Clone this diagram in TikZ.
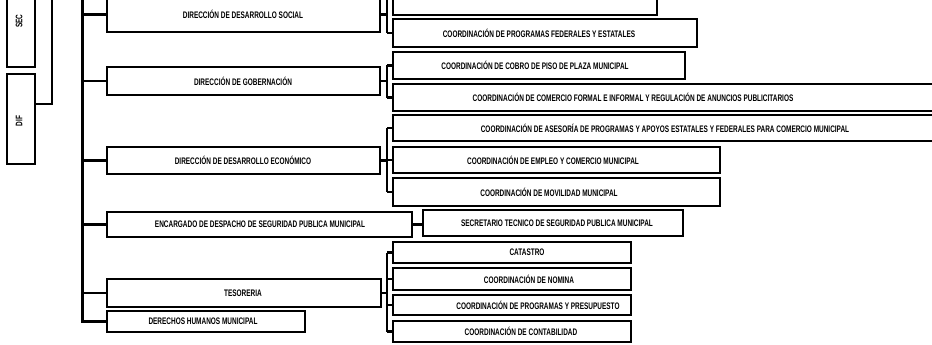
\documentclass[tikz,border=0pt]{standalone}
\usepackage{fontspec}
\setmainfont{Liberation Sans}[FakeStretch=0.68]
\begin{document}
\begin{tikzpicture}[x=1pt,y=-1pt,
  bx/.style={draw=black,line width=1.3pt,rectangle,inner sep=0pt},
  txt/.style={font=\fontsize{9.5}{10}\selectfont\bfseries,inner sep=0pt,text=black},
  bar/.style={line width=3pt,line cap=rect},
  conn/.style={line width=2.2pt},
  thin/.style={line width=1.4pt}]
\useasboundingbox (0,0) rectangle (932,345);
\begin{scope}
\clip (0,0) rectangle (932,345);
% box macro: name, x1, y1, x2, y2, text, text x
\newcommand{\orgbox}[7]{%
  \node[bx,minimum width={(#4)-(#2)},minimum height={(#5)-(#3)}] (#1) at ({((#2)+(#4))/2},{((#3)+(#5))/2}) {};
  \node[txt] (#1t) at (#7,{((#3)+(#5))/2}) {#6};}
% left boxes
\node[bx,minimum width=28,minimum height=72] (sec) at (21,31) {};
\node[txt,rotate=90] (sect) at (19,21) {SEC};
\node[bx,minimum width=28,minimum height=90] (dif) at (21,119) {};
\node[txt,rotate=90] (dift) at (19,121) {DIF};
% level 2
\orgbox{ds}{107}{-3}{380}{32}{DIRECCIÓN DE DESARROLLO SOCIAL}{243}
\orgbox{gob}{107}{67}{380}{95}{DIRECCIÓN DE GOBERNACIÓN}{243}
\orgbox{de}{107}{147}{380}{174}{DIRECCIÓN DE DESARROLLO ECONÓMICO}{243}
\orgbox{enc}{107}{212}{412}{237}{ENCARGADO DE DESPACHO DE SEGURIDAD PUBLICA MUNICIPAL}{260}
\orgbox{tes}{107}{279}{381}{307}{TESORERIA}{243}
\orgbox{dh}{107}{311}{305}{332}{DERECHOS HUMANOS MUNICIPAL}{203}
% level 3
\orgbox{ca}{393}{-20}{657}{15}{}{525}
\orgbox{cb}{393}{19}{697}{47}{COORDINACIÓN DE PROGRAMAS FEDERALES Y ESTATALES}{539}
\orgbox{cc}{393}{52}{685}{79}{COORDINACIÓN DE COBRO DE PISO DE PLAZA MUNICIPAL}{535}
\orgbox{cd}{393}{84}{940}{111}{COORDINACIÓN DE COMERCIO FORMAL E INFORMAL Y REGULACIÓN DE ANUNCIOS PUBLICITARIOS}{633}
\orgbox{ce}{393}{115}{940}{141}{COORDINACIÓN DE ASESORÍA DE PROGRAMAS Y APOYOS ESTATALES Y FEDERALES PARA COMERCIO MUNICIPAL}{665}
\orgbox{cf}{393}{147}{720}{173}{COORDINACIÓN DE EMPLEO Y COMERCIO MUNICIPAL}{553}
\orgbox{cg}{393}{178}{720}{206}{COORDINACIÓN DE MOVILIDAD MUNICIPAL}{549}
\orgbox{st}{423}{210}{683}{236}{SECRETARIO TECNICO DE SEGURIDAD PUBLICA MUNICIPAL}{557}
\orgbox{ch}{393}{242}{631}{263}{CATASTRO}{527}
\orgbox{ci}{393}{268}{631}{290}{COORDINACIÓN DE NOMINA}{529}
\orgbox{cj}{393}{295}{631}{315}{COORDINACIÓN DE PROGRAMAS Y PRESUPUESTO}{538}
\orgbox{ck}{393}{321}{631}{342}{COORDINACIÓN DE CONTABILIDAD}{521}
% connectors
\coordinate (bartop) at (82,-3);
\coordinate (diftop) at (52,-3);
\coordinate (bx) at (387,0);
\draw[thin] ([yshift=15pt]dif.east) -| (diftop);
\draw[bar] (bartop) -- (bartop |- dh.west);
\foreach \n in {ds,gob,de,enc,tes,dh}{
  \draw[conn] (bartop |- \n.west) -- (\n.west);}
\draw[conn] (enc.east) -- (enc.east -| st.west);
% brackets
\draw[conn] (ds.east) -- (ds.east -| bx);
\draw[conn] (bx |- ca.west) -- (bx |- cb.west);
\draw[conn] (gob.east) -- (gob.east -| bx);
\draw[conn] (bx |- cc.west) -- (bx |- cd.west);
\draw[conn] (de.east) -- (de.east -| bx);
\draw[conn] (bx |- ce.west) -- (bx |- cg.west);
\draw[conn] (tes.east) -- (tes.east -| bx);
\draw[conn] (bx |- ch.west) -- (bx |- ck.west);
\foreach \n in {ca,cb,cc,cd,ce,cf,cg,ch,ci,cj,ck}{
  \draw[conn] (bx |- \n.west) -- (\n.west);}
\end{scope}
\end{tikzpicture}
\end{document}
